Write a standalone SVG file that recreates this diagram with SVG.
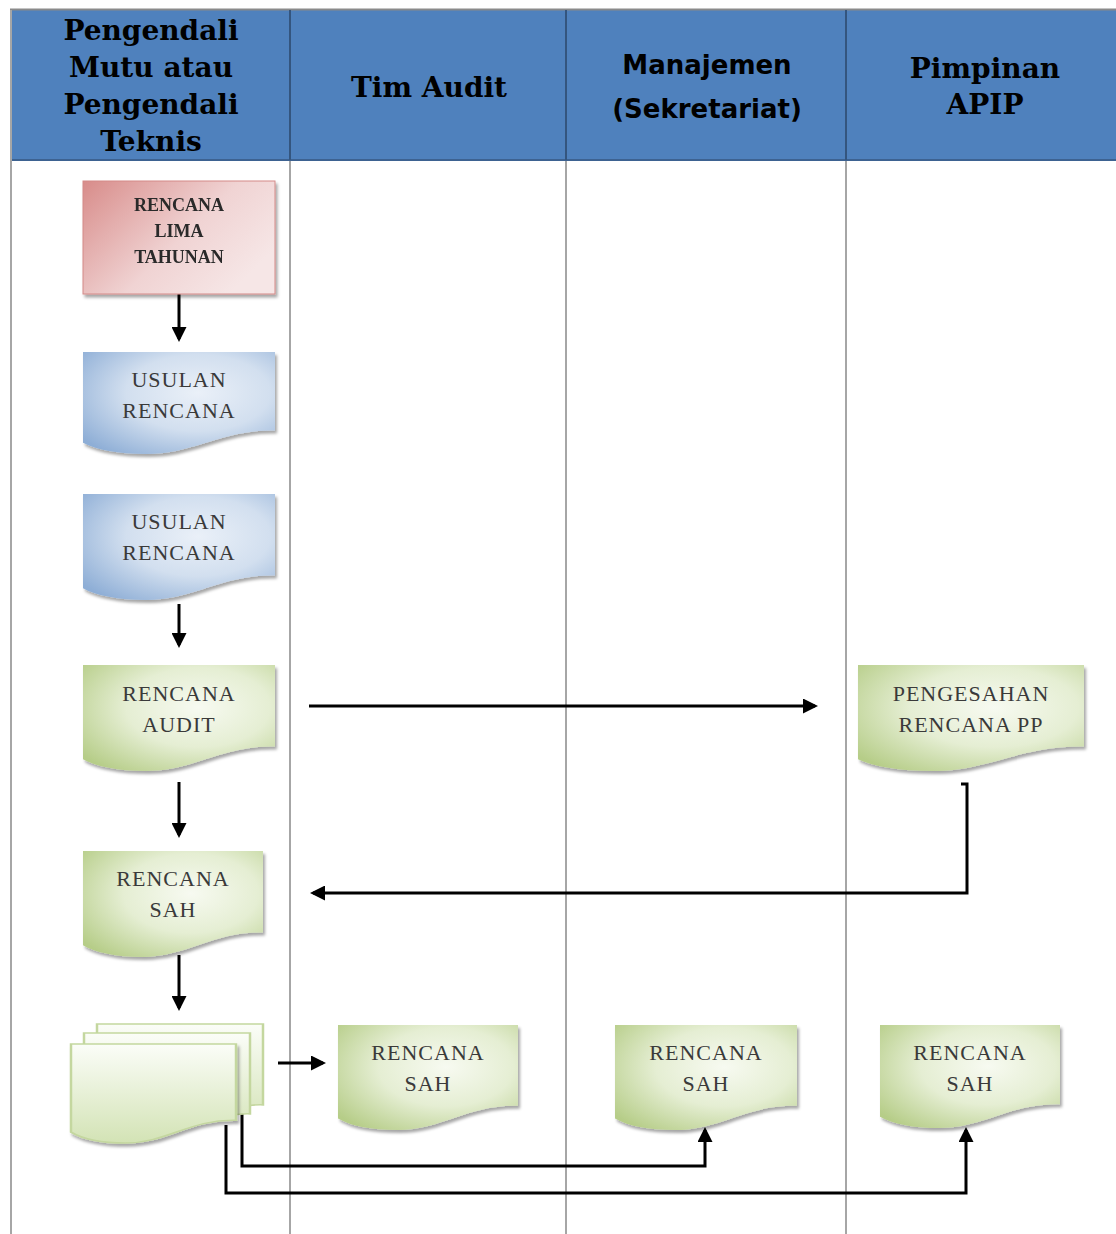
<svg xmlns="http://www.w3.org/2000/svg" xmlns:xlink="http://www.w3.org/1999/xlink" width="1116" height="1234" viewBox="0 0 1116 1234">
<defs>
  <style>
    .hdr{font-family:"DejaVu Serif",serif;font-weight:bold;font-size:28px;fill:#000;text-anchor:middle}
    .hdr2{font-family:"DejaVu Sans",sans-serif;font-weight:bold;font-size:26px;fill:#000;text-anchor:middle}
    .lbl{font-family:"Liberation Serif",serif;font-size:22px;letter-spacing:1px;fill:#3a3a3a;text-anchor:middle}
    .lbls{font-family:"Liberation Serif",serif;font-size:18px;fill:#2a2a2a;text-anchor:middle;font-weight:bold}
    .lane{stroke:#a6a6a6;stroke-width:2;fill:none}
    .conn{stroke:#000;stroke-width:3;fill:none}
  </style>
  <radialGradient id="gGreen" cx="0.6" cy="0.4" r="0.75">
    <stop offset="0" stop-color="#f7faf1"/>
    <stop offset="0.5" stop-color="#e5eed3"/>
    <stop offset="1" stop-color="#b6cd88"/>
  </radialGradient>
  <radialGradient id="gBlue" cx="0.6" cy="0.4" r="0.75">
    <stop offset="0" stop-color="#eaf0f8"/>
    <stop offset="0.5" stop-color="#d2dfef"/>
    <stop offset="1" stop-color="#8eaed6"/>
  </radialGradient>
  <linearGradient id="gRed" x1="0" y1="0" x2="1" y2="0.6">
    <stop offset="0" stop-color="#d88c8a"/>
    <stop offset="0.6" stop-color="#f0d3d3"/>
    <stop offset="1" stop-color="#f6e6e6"/>
  </linearGradient>
  <linearGradient id="gPage" x1="0" y1="0" x2="0" y2="1">
    <stop offset="0" stop-color="#fbfdf8"/>
    <stop offset="1" stop-color="#d3e3b5"/>
  </linearGradient>
  <filter id="sh" x="-10%" y="-10%" width="130%" height="130%">
    <feDropShadow dx="2" dy="3" stdDeviation="1.5" flood-color="#000" flood-opacity="0.35"/>
  </filter>
  <path id="doc" d="M0,0 H100 V77 C72,76 58,100 33,100 C18,100 7,96 0,89 Z"/>
  <marker id="ah" viewBox="0 0 10 10" refX="8" refY="5" markerWidth="5" markerHeight="5" orient="auto">
    <path d="M0,0 L10,5 L0,10 Z" fill="#000"/>
  </marker>
</defs>

<rect width="1116" height="1234" fill="#fff"/>

<g id="header">
  <rect x="10" y="10" width="1106" height="150" fill="#4f81bd"/>
  <line x1="10" y1="9.5" x2="1116" y2="9.5" stroke="#8a8a8a" stroke-width="2"/>
  <line x1="10" y1="160" x2="1116" y2="160" stroke="#3d6291" stroke-width="2"/>
  <line x1="290" y1="10" x2="290" y2="160" stroke="#34557e" stroke-width="2"/>
  <line x1="566" y1="10" x2="566" y2="160" stroke="#34557e" stroke-width="2"/>
  <line x1="846" y1="10" x2="846" y2="160" stroke="#34557e" stroke-width="2"/>
  <text class="hdr" x="151" y="40">Pengendali</text>
  <text class="hdr" x="151" y="77">Mutu atau</text>
  <text class="hdr" x="151" y="114">Pengendali</text>
  <text class="hdr" x="151" y="151">Teknis</text>
  <text class="hdr" x="429" y="97">Tim Audit</text>
  <text class="hdr2" x="707" y="74">Manajemen</text>
  <text class="hdr2" x="707" y="118">(Sekretariat)</text>
  <text class="hdr" x="985" y="78">Pimpinan</text>
  <text class="hdr" x="985" y="114">APIP</text>
</g>

<g id="lanes">
  <line class="lane" x1="11" y1="10" x2="11" y2="1234" stroke-width="1.5"/>
  <line class="lane" x1="290" y1="161" x2="290" y2="1234"/>
  <line class="lane" x1="566" y1="161" x2="566" y2="1234"/>
  <line class="lane" x1="846" y1="161" x2="846" y2="1234"/>
</g>

<g id="connectors">
  <line class="conn" x1="179" y1="287" x2="179" y2="339" marker-end="url(#ah)"/>
  <line class="conn" x1="179" y1="604" x2="179" y2="645" marker-end="url(#ah)"/>
  <line class="conn" x1="179" y1="782" x2="179" y2="835" marker-end="url(#ah)"/>
  <line class="conn" x1="179" y1="955" x2="179" y2="1008" marker-end="url(#ah)"/>
  <line class="conn" x1="309" y1="706" x2="815" y2="706" marker-end="url(#ah)"/>
  <polyline class="conn" points="961,784 967,784 967,893 313,893" marker-end="url(#ah)"/>
  <line class="conn" x1="278" y1="1063" x2="323" y2="1063" marker-end="url(#ah)"/>
  <polyline class="conn" points="242,1112 242,1166 705,1166 705,1130" marker-end="url(#ah)"/>
  <polyline class="conn" points="226,1125 226,1193 966,1193 966,1130" marker-end="url(#ah)"/>
</g>

<g id="n-rencana-lima" filter="url(#sh)">
  <rect x="83" y="181" width="192" height="113" fill="url(#gRed)" stroke="#d38a88" stroke-width="1"/>
  <text class="lbls" x="179" y="211">RENCANA</text>
  <text class="lbls" x="179" y="237">LIMA</text>
  <text class="lbls" x="179" y="263">TAHUNAN</text>
</g>

<g id="n-usulan-1">
  <g filter="url(#sh)"><use xlink:href="#doc" fill="url(#gBlue)" transform="translate(83,352) scale(1.92,1.02)"/></g>
  <text class="lbl" x="179" y="387">USULAN</text>
  <text class="lbl" x="179" y="418">RENCANA</text>
</g>

<g id="n-usulan-2">
  <g filter="url(#sh)"><use xlink:href="#doc" fill="url(#gBlue)" transform="translate(83,494) scale(1.92,1.06)"/></g>
  <text class="lbl" x="179" y="529">USULAN</text>
  <text class="lbl" x="179" y="560">RENCANA</text>
</g>

<g id="n-rencana-audit">
  <g filter="url(#sh)"><use xlink:href="#doc" fill="url(#gGreen)" transform="translate(83,665) scale(1.92,1.06)"/></g>
  <text class="lbl" x="179" y="701">RENCANA</text>
  <text class="lbl" x="179" y="732">AUDIT</text>
</g>

<g id="n-pengesahan">
  <g filter="url(#sh)"><use xlink:href="#doc" fill="url(#gGreen)" transform="translate(858,665) scale(2.26,1.06)"/></g>
  <text class="lbl" x="971" y="701">PENGESAHAN</text>
  <text class="lbl" x="971" y="732">RENCANA PP</text>
</g>

<g id="n-rencana-sah-1">
  <g filter="url(#sh)"><use xlink:href="#doc" fill="url(#gGreen)" transform="translate(83,851) scale(1.8,1.06)"/></g>
  <text class="lbl" x="173" y="886">RENCANA</text>
  <text class="lbl" x="173" y="917">SAH</text>
</g>

<g id="n-multidoc">
  <use xlink:href="#doc" fill="url(#gPage)" stroke="#c4d79f" stroke-width="1.5" vector-effect="non-scaling-stroke" transform="translate(97,1024) scale(1.66,1.05)"/>
  <use xlink:href="#doc" fill="url(#gPage)" stroke="#c4d79f" stroke-width="1.5" vector-effect="non-scaling-stroke" transform="translate(84,1033) scale(1.66,1.05)"/>
  <g filter="url(#sh)"><use xlink:href="#doc" fill="url(#gPage)" stroke="#c4d79f" stroke-width="1.5" vector-effect="non-scaling-stroke" transform="translate(71,1044) scale(1.65,0.99)"/></g>
</g>

<g id="n-rencana-sah-2">
  <g filter="url(#sh)"><use xlink:href="#doc" fill="url(#gGreen)" transform="translate(338,1025) scale(1.8,1.05)"/></g>
  <text class="lbl" x="428" y="1060">RENCANA</text>
  <text class="lbl" x="428" y="1091">SAH</text>
</g>

<g id="n-rencana-sah-3">
  <g filter="url(#sh)"><use xlink:href="#doc" fill="url(#gGreen)" transform="translate(615,1025) scale(1.82,1.05)"/></g>
  <text class="lbl" x="706" y="1060">RENCANA</text>
  <text class="lbl" x="706" y="1091">SAH</text>
</g>

<g id="n-rencana-sah-4">
  <g filter="url(#sh)"><use xlink:href="#doc" fill="url(#gGreen)" transform="translate(880,1025) scale(1.8,1.03)"/></g>
  <text class="lbl" x="970" y="1060">RENCANA</text>
  <text class="lbl" x="970" y="1091">SAH</text>
</g>
</svg>
